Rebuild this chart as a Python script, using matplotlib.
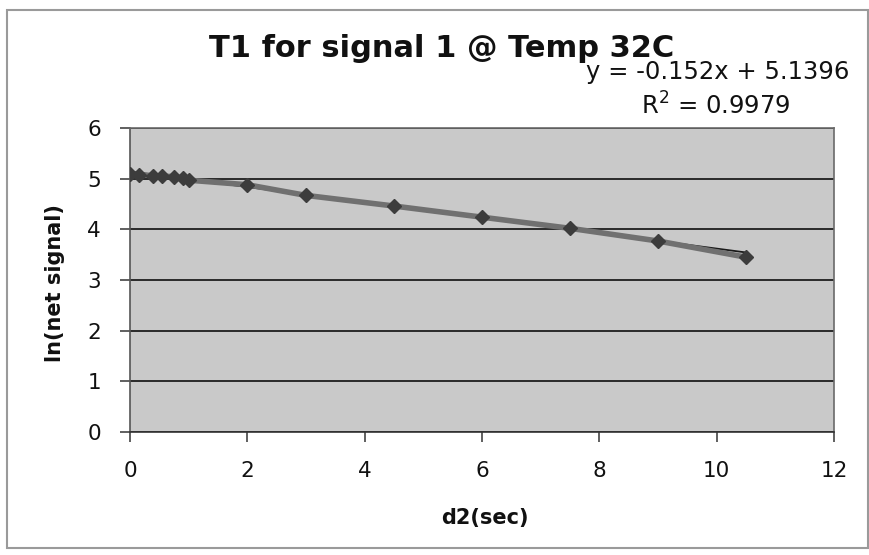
import numpy as np
import matplotlib
matplotlib.use('Agg')
import matplotlib.pyplot as plt
from matplotlib.patches import Rectangle

plt.rcParams['font.family'] = ['DejaVu Sans']

# data (d2 in sec, ln of net signal)
d2 = [0.0, 0.15, 0.4, 0.55, 0.75, 0.9, 1.0, 2.0, 3.0, 4.5, 6.0, 7.5, 9.0, 10.5]
ln_signal = [5.09, 5.08, 5.06, 5.05, 5.04, 5.01, 4.97, 4.88, 4.67, 4.46, 4.24, 4.02, 3.77, 3.45]

slope = -0.152
intercept = 5.1396
r2 = 0.9979

x_ticks = [0, 2, 4, 6, 8, 10, 12]
y_ticks = [0, 1, 2, 3, 4, 5, 6]

W, H = 869, 555
fig = plt.figure(figsize=(W / 100, H / 100), dpi=100)
fig.patch.set_facecolor('white')

# chart area border
fig.patches.append(Rectangle((7 / W, 1 - 548 / H), (868 - 7) / W, (548 - 10) / H,
                             transform=fig.transFigure, fill=False,
                             ec='#9a9a9a', lw=1.5))

ax = fig.add_axes([130 / W, 1 - 432 / H, (834 - 130) / W, (432 - 128) / H])
ax.set_facecolor('#c9c9c9')

ax.set_xlim(0, 12)
ax.set_ylim(0, 6)
ax.set_xticks(x_ticks)
ax.set_yticks(y_ticks)

# horizontal gridlines
ax.grid(axis='y', color='#1e1e1e', lw=1.3)
ax.set_axisbelow(True)

# trendline
xx = np.array([0, 10.5])
ax.plot(xx, slope * xx + intercept, color='#1a1a1a', lw=1.3, zorder=3)

# data series
ax.plot(d2, ln_signal, color='#707070', lw=4, zorder=4)
ax.plot(d2, ln_signal, ls='none', marker='D', ms=7, mfc='#3c3c3c', mec='#3c3c3c', zorder=5)

for s in ax.spines.values():
    s.set_color('#6a6a6a')
    s.set_linewidth(1.2)
ax.spines['bottom'].set_color('#333333')
ax.spines['left'].set_color('#555555')

ax.tick_params(axis='both', direction='out', length=7, width=1.2,
               color='#444444', labelsize=15.5, labelcolor='#111111')
ax.tick_params(axis='y', pad=14)
ax.tick_params(axis='x', pad=14)

# titles and labels
fig.text(442 / W, 1 - 57 / H, 'T1 for signal 1 @ Temp 32C', ha='center', va='baseline',
         fontsize=22, fontweight='bold', color='#111111')
fig.text(718 / W, 1 - 79 / H, 'y = -0.152x + 5.1396', ha='center', va='baseline',
         fontsize=17.5, color='#111111')
fig.text(716 / W, 1 - 115 / H, 'R$^2$ = 0.9979', ha='center', va='baseline',
         fontsize=17.5, color='#111111')
fig.text(55 / W, 1 - 283 / H, 'ln(net signal)', rotation=90, ha='center', va='center',
         fontsize=15, fontweight='bold', color='#111111')
fig.text(485 / W, 1 - 518 / H, 'd2(sec)', ha='center', va='center',
         fontsize=15, fontweight='bold', color='#111111')

fig.savefig('out.png', dpi=100)
